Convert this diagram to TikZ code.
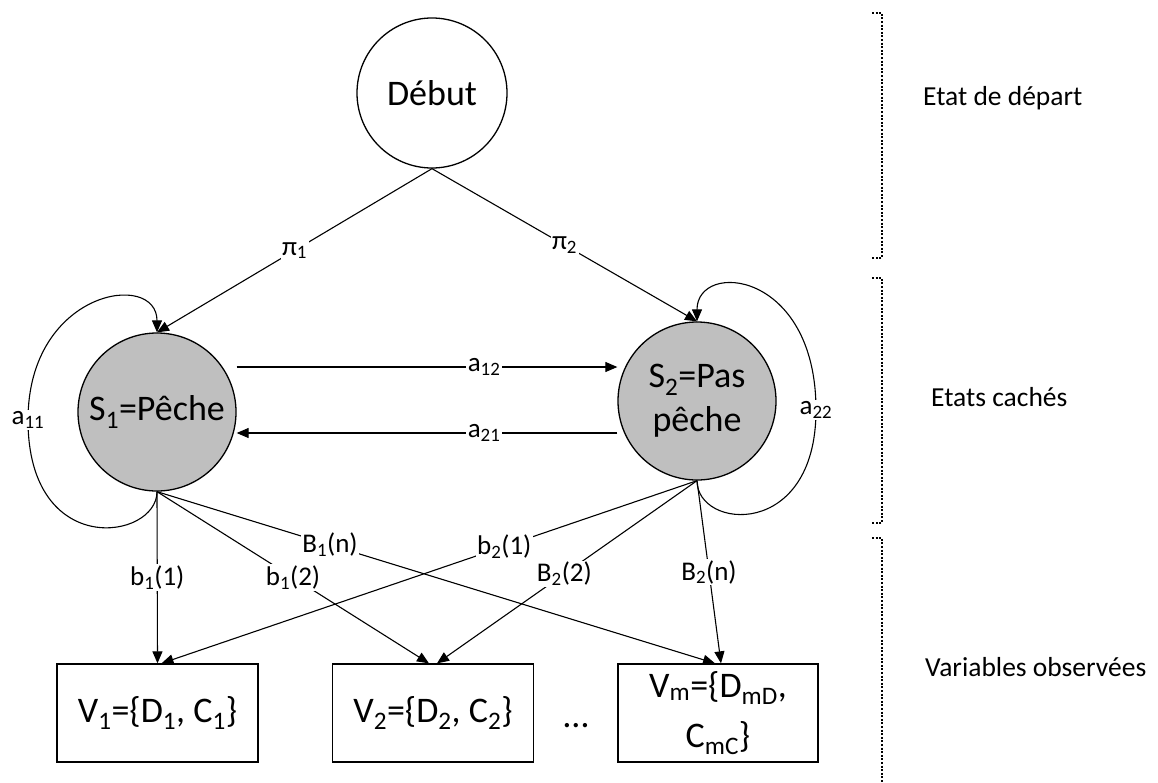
\documentclass[tikz,border=0pt]{standalone}
\usepackage{fontspec}
\setmainfont{Carlito}
\usepackage{xcolor}
\usepackage{tikz}
\usetikzlibrary{arrows.meta}

\definecolor{cachegray}{RGB}{191,191,191}

\begin{document}
\begin{tikzpicture}[
    x=1pt, y=-1pt,
    etat/.style={circle, draw, line width=1.3pt, inner sep=0pt, minimum size=158pt, align=center, font=\fontsize{36}{44}\selectfont},
    cache/.style={etat, fill=cachegray},
    obs/.style={rectangle, draw, line width=1.3pt, minimum width=201pt, minimum height=98pt, align=center, font=\fontsize{36}{50}\selectfont},
    arrow/.style={-{Triangle[length=12pt,width=10pt]}, line width=1.1pt},
    lbl/.style={fill=white, inner sep=1.5pt, font=\fontsize{27}{30}\selectfont},
    niveau/.style={anchor=west, inner sep=0pt, font=\fontsize{27.5}{30}\selectfont},
    crochet/.style={line width=1.5pt, dash pattern=on 2pt off 1.6pt}
]
\useasboundingbox (0,0) rectangle (1158,782);

% states
\node[etat, minimum size=150pt] (debut) at (432,93) {Début};
\node[cache] (s1) at (157,412) {S\textsubscript{1}=Pêche};
\node[cache] (s2) at (697,401) {S\textsubscript{2}=Pas\\pêche};

% observations
\node[obs] (v1) at (157.5,713) {V\textsubscript{1}=\{D\textsubscript{1}, C\textsubscript{1}\}};
\node[obs] (v2) at (433,713) {V\textsubscript{2}=\{D\textsubscript{2}, C\textsubscript{2}\}};
\node[obs, minimum width=200pt] (vm) at (718,713) {V\textsubscript{m}=\{D\textsubscript{mD},\\C\textsubscript{mC}\}};
\node[font=\fontsize{36}{40}\selectfont] (etc) at (576,726) {\dots};

% initial probabilities
\draw[arrow] (debut.south) -- node[lbl] {π\textsubscript{1}} (s1.north);
\draw[arrow] (debut.south) -- node[lbl] {π\textsubscript{2}} (s2.north);

% transitions
\draw[arrow] ([yshift=45pt]s1.east) -- node[lbl, pos=0.65] {a\textsubscript{12}} ([yshift=34pt]s2.west);
\draw[arrow] ([yshift=-32pt]s2.west) -- node[lbl, pos=0.35] {a\textsubscript{21}} ([yshift=-21pt]s1.east);
\draw[arrow] (s1.south) .. controls (157,540) and (28,560) .. (28,420) node[lbl] {a\textsubscript{11}}
    .. controls (28,290) and (157,270) .. (s1.north);
\draw[arrow] (s2.south) .. controls (697,530) and (816,540) .. (816,410) node[lbl] {a\textsubscript{22}}
    .. controls (816,270) and (697,260) .. (s2.north);

% emissions
\draw[arrow] (s1.south) -- node[lbl, pos=0.5] {b\textsubscript{1}(1)} (v1.north);
\draw[arrow] (s1.south) -- node[lbl, pos=0.5] {b\textsubscript{1}(2)} ([xshift=-4pt]v2.north);
\draw[arrow] (s1.south) -- node[lbl, pos=0.31] {B\textsubscript{1}(n)} ([xshift=-3pt]vm.north);
\draw[arrow] (s2.south) -- node[lbl, pos=0.36] {b\textsubscript{2}(1)} ([xshift=4pt]v1.north);
\draw[arrow] (s2.south) -- node[lbl, pos=0.51] {B\textsubscript{2}(2)} ([xshift=4pt]v2.north);
\draw[arrow] (s2.south) -- node[lbl, pos=0.5] {B\textsubscript{2}(n)} ([xshift=3pt]vm.north);

% levels
\node[niveau] (depart) at (923,98) {Etat de départ};
\node[niveau] (caches) at (931,397) {Etats cachés};
\node[niveau] (observees) at (925,667) {Variables observées};
\draw[crochet] (872,13) -- (882,13) -- (882,258) -- (872,258);
\draw[crochet] (872,278) -- (882,278) -- (882,523) -- (872,523);
\draw[crochet] (872,538) -- (882,538) -- (882,782);

\end{tikzpicture}
\end{document}
